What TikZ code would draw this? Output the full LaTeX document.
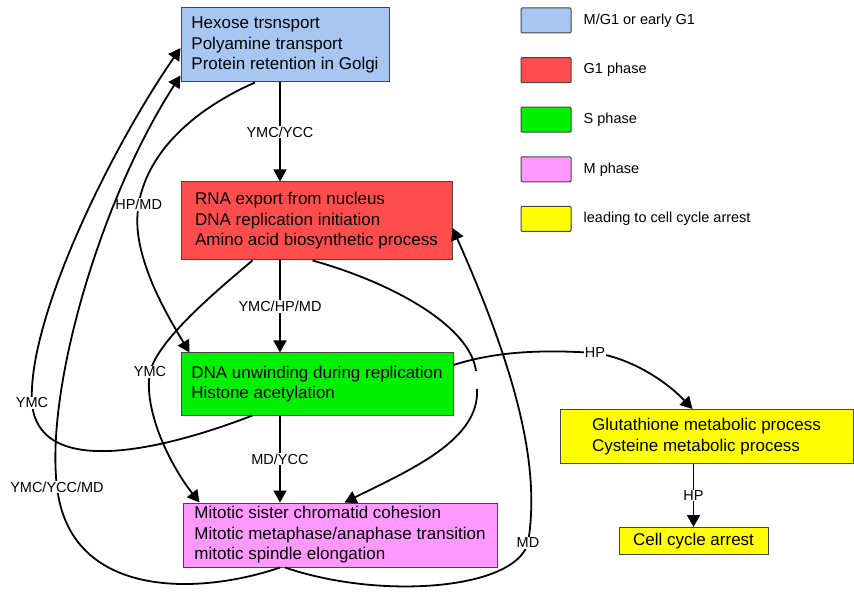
\documentclass[tikz,border=0pt]{standalone}
\usepackage{fontspec}
\setmainfont{Liberation Sans}
\usetikzlibrary{arrows.meta,positioning}
\definecolor{mgone}{RGB}{168,198,242}
\definecolor{gone}{RGB}{255,76,76}
\definecolor{sphase}{RGB}{0,240,0}
\definecolor{mphase}{RGB}{255,153,255}
\definecolor{arrestc}{RGB}{255,255,0}
\definecolor{rim}{RGB}{70,70,70}
\tikzset{
  proc/.style  ={draw=rim,line width=1pt,align=left,inner sep=2pt,font=\fontsize{17}{20.5}\selectfont},
  earlybox/.style={proc,fill=mgone},
  gonebox/.style={proc,fill=gone},
  sbox/.style  ={proc,fill=sphase},
  mphbox/.style={proc,fill=mphase},
  arrbox/.style={proc,fill=arrestc},
  legbox/.style={draw=rim,line width=1pt,minimum width=50pt,minimum height=25pt,inner sep=0pt,rounded corners=1pt},
  legtxt/.style={inner sep=1pt,font=\fontsize{14.5}{17}\selectfont},
  flow/.style  ={-{Triangle[length=12pt,width=13pt]},line width=1.8pt},
  lbl/.style   ={fill=white,inner sep=1pt,font=\fontsize{14.5}{17}\selectfont},
}

\begin{document}
\begin{tikzpicture}[x=1pt,y=-1pt]
  \useasboundingbox (0,0) rectangle (854,593);
  % phase boxes
  \node[earlybox,minimum width=208pt,minimum height=74pt] (hexose) at (285,45)
    {Hexose trsnsport\\Polyamine transport\\Protein retention in Golgi};
  \node[gonebox,minimum width=271pt,minimum height=78pt] (rna) at (316.5,221)
    {RNA export from nucleus\\DNA replication initiation\\Amino acid biosynthetic process};
  \node[sbox,minimum width=272pt,minimum height=62pt] (unwind) at (317,384)
    {DNA unwinding during replication\\Histone acetylation};
  \node[mphbox,minimum width=314pt,minimum height=64pt] (mitotic) at (340,535)
    {Mitotic sister chromatid cohesion\\Mitotic metaphase/anaphase transition\\mitotic spindle elongation};
  \node[arrbox,minimum width=293pt,minimum height=54pt] (gluta) at (706.5,436.5)
    {Glutathione metabolic process\\Cysteine metabolic process};
  \node[arrbox,minimum width=149pt,minimum height=27pt] (arrest) at (693.5,541) {Cell cycle arrest};

  % straight links down the middle
  \coordinate (spine) at (280,0);
  \draw[flow] (hexose.south -| spine) -- node[lbl]{YMC/YCC} (rna.north -| spine);
  \draw[flow] (rna.south -| spine) -- node[lbl]{YMC/HP/MD} (unwind.north -| spine);
  \draw[flow] (unwind.south -| spine) -- node[lbl]{MD/YCC} (mitotic.north -| spine);
  \draw[flow] (arrest.north |- gluta.south) -- node[lbl]{HP} (arrest.north);

  % curved links
  \draw[flow] ([xshift=-30pt]hexose.south) .. controls (170,120) and (128,180) .. (139,240) node[lbl,pos=0.8]{HP/MD}
    .. controls (146,280) and (170,320) .. ([xshift=9pt]unwind.north west);
  \draw[flow] ([xshift=72pt]unwind.south west) .. controls (150,455) and (38,475) .. (32,403) node[lbl]{YMC}
    .. controls (27,320) and (110,150) .. ([yshift=-3pt]hexose.west);
  \draw[flow] (mitotic.south -| spine) .. controls (200,595) and (70,600) .. (57,487) node[lbl]{YMC/YCC/MD}
    .. controls (45,390) and (100,200) .. ([yshift=7pt]hexose.south west);
  \draw[flow] ([xshift=72pt]rna.south west) .. controls (215,292) and (158,340) .. (150,372) node[lbl]{YMC}
    .. controls (143,410) and (170,465) .. ([xshift=17pt]mitotic.north west);
  \draw[flow] ([xshift=132pt]rna.south west) .. controls (390,282) and (470,325) .. (476,371)
    (477,389) .. controls (480,440) and (410,470) .. ([xshift=162pt]mitotic.north west);
  \draw[flow] ([xshift=-55pt]mitotic.south) .. controls (380,600) and (515,590) .. (528,543) node[lbl]{MD}
    .. controls (540,470) and (520,380) .. ([yshift=-7pt]rna.east);
  \draw[flow] ([yshift=19pt]unwind.east) .. controls (500,350) and (550,350) .. (595,353) node[lbl]{HP}
    .. controls (630,358) and (665,380) .. ([xshift=-14pt]gluta.north);

  % legend
  \foreach \colr/\txt [count=\i] in {mgone/{M/G1 or early G1},gone/{G1 phase},sphase/{S phase},mphase/{M phase},arrestc/{leading to cell cycle arrest}}{
    \node[legbox,fill=\colr] (leg\i) at (546,{20.5+49.6*(\i-1)}) {};
    \node[legtxt,right=11pt of leg\i] (legtxt\i) {\txt};
  }
\end{tikzpicture}
\end{document}
